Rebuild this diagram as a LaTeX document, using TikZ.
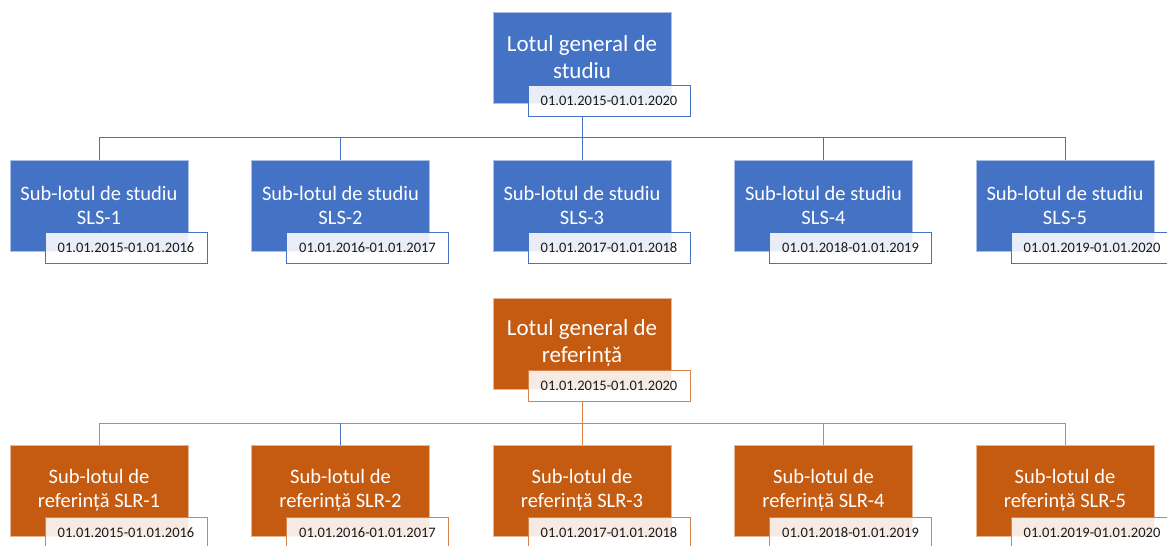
\documentclass[tikz,border=0pt]{standalone}
\usepackage{fontspec}
\setmainfont{Carlito}
\definecolor{studyblue}{HTML}{4472C4}
\definecolor{refbrown}{HTML}{C55A11}
\definecolor{refline}{HTML}{D7844A}
\definecolor{dateink}{HTML}{1A1A1A}
\tikzset{
  lotbox/.style={draw=white!55!#1, line width=0.6pt, fill=#1, text=white,
    minimum width=178pt, minimum height=91pt, align=center, inner sep=0pt},
  datebox/.style={draw=#1, line width=0.9pt, fill=white, fill opacity=0.88,
    text opacity=1, text=dateink, minimum width=162pt, minimum height=31pt,
    inner sep=0pt, font=\fontsize{14.5}{16}\selectfont},
  busline/.style={draw=#1, line width=1pt},
  mainfont/.style={font=\fontsize{23}{27}\selectfont},
  subfont/.style={font=\fontsize{20.5}{24}\selectfont}
}
\begin{document}
\begin{tikzpicture}[x=1pt, y=-1pt]
  \useasboundingbox (0,0) rectangle (1167,546);
  % lotul general de studiu
  \node[lotbox=studyblue, mainfont] (gs) at (582,57.5) {Lotul general de\\studiu};
  \node[datebox=studyblue] (gsd) at (609,100.5) {01.01.2015-01.01.2020};
  \coordinate (bs) at (582,137);
  \foreach \i/\a/\b in {1/2015/2016,2/2016/2017,3/2017/2018,4/2018/2019,5/2019/2020} {
    \node[lotbox=studyblue, subfont] (s\i) at ({99+241.5*(\i-1)},205.5) {Sub-lotul de studiu\\SLS-\i};
    \node[datebox=studyblue] (sd\i) at ({126+241.5*(\i-1)},247.5) {01.01.\a-01.01.\b};
  }
  \draw[busline=studyblue] (gsd.south -| gs.south) -- (s3.north);
  \foreach \i in {1,2,4,5}
    \draw[busline=studyblue] (s\i.north) |- (bs);
  % lotul general de referinta
  \node[lotbox=refbrown, mainfont] (gr) at (582,343.5) {Lotul general de\\referință};
  \node[datebox=refline] (grd) at (609,386) {01.01.2015-01.01.2020};
  \coordinate (br) at (582,423);
  \foreach \i/\a/\b in {1/2015/2016,2/2016/2017,3/2017/2018,4/2018/2019,5/2019/2020} {
    \node[lotbox=refbrown, subfont] (r\i) at ({99+241.5*(\i-1)},490.5) {Sub-lotul de\\referință SLR-\i};
    \node[datebox=refline] (rd\i) at ({126+241.5*(\i-1)},532.5) {01.01.\a-01.01.\b};
  }
  \draw[busline=refline] (grd.south -| gr.south) -- (r3.north);
  \foreach \i in {1,4,5}
    \draw[busline=refline] (r\i.north) |- (br);
  \draw[busline=refline] (r2.north |- br) -- (br);
  \draw[busline=studyblue] (r2.north) -- (r2.north |- br);
\end{tikzpicture}
\end{document}
